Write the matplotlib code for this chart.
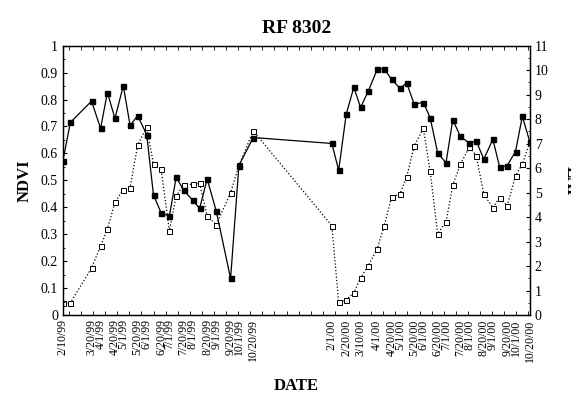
import datetime as dt
import matplotlib
matplotlib.use("Agg")
import matplotlib.pyplot as plt
import matplotlib.dates as mdates
from matplotlib.ticker import MultipleLocator

plt.rcParams['font.family'] = 'Liberation Serif'

# sampling dates (shared by both series)
dates = ["2/10/99", "2/20/99", "3/20/99", "4/1/99", "4/10/99", "4/20/99", "5/1/99",
         "5/10/99", "5/20/99", "6/1/99", "6/10/99", "6/20/99", "7/1/99", "7/10/99",
         "7/20/99", "8/1/99", "8/10/99", "8/20/99", "9/1/99", "9/20/99", "10/1/99",
         "10/20/99",
         "2/1/00", "2/10/00", "2/20/00", "3/1/00", "3/10/00", "3/20/00", "4/1/00",
         "4/10/00", "4/20/00", "5/1/00", "5/10/00", "5/20/00", "6/1/00", "6/10/00",
         "6/20/00", "7/1/00", "7/10/00", "7/20/00", "8/1/00", "8/10/00", "8/20/00",
         "9/1/00", "9/10/00", "9/20/00", "10/1/00", "10/10/00", "10/20/00"]

ndvi = [0.571, 0.715, 0.794, 0.693, 0.826, 0.730, 0.851, 0.704, 0.740, 0.670,
        0.445, 0.380, 0.367, 0.512, 0.463, 0.426, 0.396, 0.505, 0.386, 0.136,
        0.555, 0.659,
        0.637, 0.537, 0.746, 0.845, 0.771, 0.830, 0.912, 0.914, 0.875, 0.842,
        0.861, 0.783, 0.789, 0.733, 0.602, 0.565, 0.725, 0.663, 0.638, 0.646,
        0.579, 0.652, 0.550, 0.555, 0.607, 0.738, 0.642]

lai = [0.50, 0.50, 1.92, 2.82, 3.51, 4.61, 5.12, 5.20, 6.94, 7.67,
       6.16, 5.97, 3.44, 4.87, 5.31, 5.35, 5.38, 4.05, 3.69, 4.99,
       6.11, 7.52,
       3.65, 0.52, 0.63, 0.91, 1.52, 2.01, 2.71, 3.62, 4.83, 4.94,
       5.65, 6.91, 7.62, 5.88, 3.32, 3.80, 5.31, 6.16, 6.86, 6.50,
       4.94, 4.38, 4.80, 4.46, 5.69, 6.16, 7.06]

tick_labels = ["2/10/99", "3/20/99", "4/1/99", "4/20/99", "5/1/99", "5/20/99",
               "6/1/99", "6/20/99", "7/1/99", "7/20/99", "8/1/99", "8/20/99",
               "9/1/99", "9/20/99", "10/1/99", "10/20/99",
               "2/1/00", "2/20/00", "3/10/00", "4/1/00", "4/20/00", "5/1/00",
               "5/20/00", "6/1/00", "6/20/00", "7/1/00", "7/20/00", "8/1/00",
               "8/20/00", "9/1/00", "9/20/00", "10/1/00", "10/20/00"]


def parse(s):
    return dt.datetime.strptime(s, "%m/%d/%y")


x = mdates.date2num([parse(d) for d in dates])
xt = mdates.date2num([parse(d) for d in tick_labels])

fig = plt.figure(figsize=(5.71, 4.04), dpi=100)
ax = fig.add_axes([0.110, 0.220, 0.818, 0.667])
ax2 = ax.twinx()

ax.plot(x, ndvi, '-', color='k', lw=0.9, marker='s', ms=3.6,
        mfc='k', mec='k', zorder=3)
ax2.plot(x, lai, ':', color='k', lw=0.9, marker='s', ms=3.6,
         mfc='white', mec='k', mew=0.7, zorder=2)
ax.set_zorder(ax2.get_zorder() + 1)
ax.patch.set_visible(False)

ax.set_xlim(x[0], x[-1])
ax.set_ylim(0, 1)
ax2.set_ylim(0, 11)

ax.set_xticks(xt)
ax.set_xticklabels(tick_labels, rotation=90, fontsize=8.5)
ax.xaxis.set_minor_locator(MultipleLocator(16))
ax.tick_params(axis='x', which='major', length=0, pad=3)
ax.tick_params(axis='x', which='minor', direction='in', length=3, top=True)

ax.yaxis.set_major_locator(MultipleLocator(0.1))
ax.yaxis.set_minor_locator(MultipleLocator(0.05))
ax.set_yticklabels([f"{v:g}" for v in ax.get_yticks()])
ax.tick_params(axis='y', which='major', direction='in', length=3, labelsize=10)
ax.tick_params(axis='y', which='minor', direction='in', length=1.5)

ax2.yaxis.set_major_locator(MultipleLocator(1))
ax2.yaxis.set_minor_locator(MultipleLocator(0.5))
ax2.tick_params(axis='y', which='major', direction='in', length=3, labelsize=10)
ax2.tick_params(axis='y', which='minor', direction='in', length=1.5)

for a in (ax, ax2):
    for sp in a.spines.values():
        sp.set_linewidth(0.9)

ax.set_ylabel('NDVI', fontsize=12, fontweight='bold', labelpad=6)
ax2.set_ylabel('LAI', fontsize=12, fontweight='bold', rotation=-90, labelpad=22)
ax.set_xlabel('DATE', fontsize=12, fontweight='bold', labelpad=12)
ax.set_title('RF 8302', fontsize=14, fontweight='bold', pad=9)

fig.savefig('out.png', dpi=100)
